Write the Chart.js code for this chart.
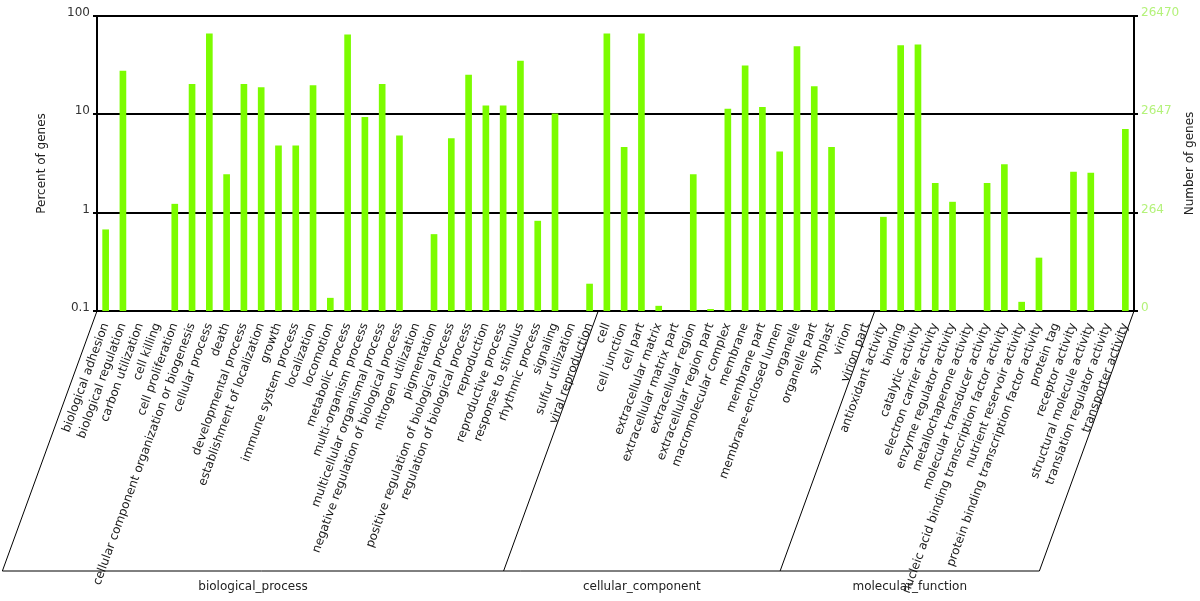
<!DOCTYPE html>
<html>
<head>
<meta charset="utf-8">
<script src="https://cdn.jsdelivr.net/npm/chart.js@4.4.1/dist/chart.umd.min.js"></script>
<style>
  html, body { margin: 0; padding: 0; background: #fff; }
  #wrap { width: 1200px; height: 601px; position: relative; }
</style>
</head>
<body>
<div id="wrap"><canvas id="goChart"></canvas></div>
<script>
"use strict";

/* GO terms per ontology, in plotting order */
var bpTerms = ['biological adhesion', 'biological regulation', 'carbon utilization', 'cell killing',
  'cell proliferation', 'cellular component organization or biogenesis', 'cellular process', 'death',
  'developmental process', 'establishment of localization', 'growth', 'immune system process',
  'localization', 'locomotion', 'metabolic process', 'multi-organism process',
  'multicellular organismal process', 'negative regulation of biological process', 'nitrogen utilization',
  'pigmentation', 'positive regulation of biological process', 'regulation of biological process',
  'reproduction', 'reproductive process', 'response to stimulus', 'rhythmic process', 'signaling',
  'sulfur utilization', 'viral reproduction'];
var ccTerms = ['cell', 'cell junction', 'cell part', 'extracellular matrix', 'extracellular matrix part',
  'extracellular region', 'extracellular region part', 'macromolecular complex', 'membrane', 'membrane part',
  'membrane-enclosed lumen', 'organelle', 'organelle part', 'symplast', 'virion', 'virion part'];
var mfTerms = ['antioxidant activity', 'binding', 'catalytic activity', 'electron carrier activity',
  'enzyme regulator activity', 'metallochaperone activity', 'molecular transducer activity',
  'nucleic acid binding transcription factor activity', 'nutrient reservoir activity',
  'protein binding transcription factor activity', 'protein tag', 'receptor activity',
  'structural molecule activity', 'translation regulator activity', 'transporter activity'];

/* percent of genes (null = no genes) */
var bpPercent = [0.67, 27.6, null, null, 1.22, 20.2, 65.7, 2.44, 20.2, 18.7, 4.77, 4.77, 19.6, 0.135,
  64.2, 9.34, 20.2, 6.03, null, 0.60, 5.66, 25.0, 12.2, 12.2, 34.7, 0.82, 10.1, null, 0.188];
var ccPercent = [65.7, 4.63, 65.7, 0.112, null, 2.44, 0.104, 11.3, 31.1, 11.8, 4.15, 48.9, 19.1, 4.63,
  null, null];
var mfPercent = [0.90, 50.0, 50.8, 1.99, 1.28, null, 1.99, 3.08, 0.123, 0.346, null, 2.59, 2.52, null, 7.05];

var groupNames   = ['biological_process', 'cellular_component', 'molecular_function'];
var percentTicks = [0.1, 1, 10, 100];
var countTicks   = ['0', '264', '2647', '26470'];

var labels = bpTerms.concat(ccTerms, mfTerms);
var values = bpPercent.concat(ccPercent, mfPercent);
var groupSizes = [bpTerms.length, ccTerms.length, mfTerms.length];

var FONT = "'DejaVu Sans', Verdana, sans-serif";
var ROT = 70;        // label angle in degrees
var DROP = 260;      // depth of the term label band under the plot

var groupFrame = {
  id: 'groupFrame',
  afterDraw: function(chart) {
    var ctx = chart.ctx, area = chart.chartArea, xs = chart.scales.x;
    var slant = DROP / Math.tan(ROT * Math.PI / 180);
    var yb = area.bottom + DROP;

    // category boundaries between ontologies
    var edges = [area.left];
    var idx = 0;
    for (var g = 0; g < groupSizes.length - 1; g++) {
      idx += groupSizes[g];
      edges.push((xs.getPixelForTick(idx - 1) + xs.getPixelForTick(idx)) / 2);
    }
    edges.push(area.right);

    ctx.save();
    ctx.strokeStyle = '#000';
    ctx.lineWidth = 1;
    ctx.beginPath();
    edges.forEach(function(x) {
      ctx.moveTo(x, area.bottom);
      ctx.lineTo(x - slant, yb);
    });
    ctx.moveTo(edges[0] - slant, yb);
    ctx.lineTo(edges[edges.length - 1] - slant, yb);
    ctx.stroke();

    ctx.fillStyle = '#222';
    ctx.font = '12px ' + FONT;
    ctx.textAlign = 'center';
    ctx.textBaseline = 'middle';
    for (var i = 0; i < groupNames.length; i++) {
      var cx = (edges[i] + edges[i + 1]) / 2 - slant;
      ctx.fillText(groupNames[i], cx, yb + 16);
    }

    // axis titles, both reading bottom to top
    var cy = (area.top + area.bottom) / 2;
    ctx.translate(42, cy);
    ctx.rotate(-Math.PI / 2);
    ctx.fillText('Percent of genes', 0, 0);
    ctx.rotate(Math.PI / 2);
    ctx.translate(1190 - 42, 0);
    ctx.rotate(-Math.PI / 2);
    ctx.fillText('Number of genes', 0, 0);
    ctx.restore();
  }
};

new Chart(document.getElementById('goChart'), {
  type: 'bar',
  data: {
    labels: labels,
    datasets: [{
      data: values,
      backgroundColor: '#7cfc00',
      borderWidth: 0,
      barThickness: 6,
      yAxisID: 'y'
    }]
  },
  plugins: [groupFrame],
  options: {
    responsive: true,
    maintainAspectRatio: false,
    animation: false,
    layout: { padding: { top: 16, left: 0, right: 0, bottom: 0 } },
    plugins: { legend: { display: false }, tooltip: { enabled: false } },
    scales: {
      x: {
        grid: { display: false },
        border: { display: false },
        ticks: {
          autoSkip: false, minRotation: ROT, maxRotation: ROT, padding: 2,
          color: '#1a1a1a', font: { family: FONT, size: 12 }
        },
        afterFit: function(s) { s.height = 290; }
      },
      y: {
        type: 'logarithmic',
        position: 'left',
        min: 0.1, max: 100,
        afterBuildTicks: function(s) { s.ticks = percentTicks.map(function(v) { return { value: v }; }); },
        grid: { color: '#000', lineWidth: 2, tickLength: 4 },
        border: { color: '#000', width: 2 },
        ticks: {
          color: '#333', padding: 3, labelOffset: -3,
          font: { family: FONT, size: 12 },
          callback: function(v) { return String(v); }
        },
        afterFit: function(s) { s.width = 97; }
      },
      y2: {
        type: 'logarithmic',
        position: 'right',
        min: 0.1, max: 100,
        afterBuildTicks: function(s) { s.ticks = percentTicks.map(function(v) { return { value: v }; }); },
        grid: { drawOnChartArea: false, color: '#000', lineWidth: 2, tickLength: 4 },
        border: { color: '#000', width: 2 },
        ticks: {
          color: '#b4f27a', padding: 3, labelOffset: -3,
          font: { family: FONT, size: 12 },
          callback: function(v, i) { return countTicks[i]; }
        },
        afterFit: function(s) { s.width = 66; }
      }
    }
  }
});
</script>
</body>
</html>
